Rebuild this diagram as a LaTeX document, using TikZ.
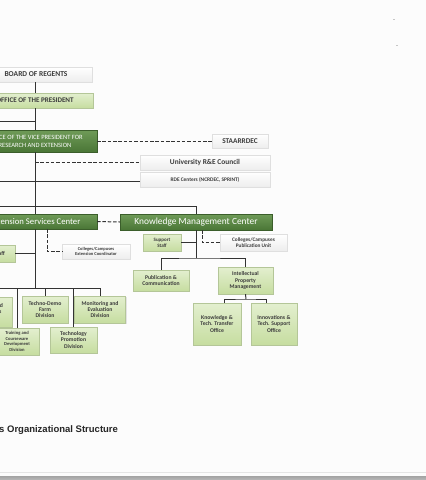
\documentclass[tikz,border=0pt]{standalone}
\usepackage{fontspec}
\setmainfont{Carlito}
\newfontfamily\capfont{Liberation Sans}
\usetikzlibrary{shadows}
\definecolor{darkgrn}{HTML}{4A7636}
\definecolor{darkgrntop}{HTML}{6F9B58}
\definecolor{litegrn}{HTML}{C6DDA0}
\definecolor{litegrntop}{HTML}{E3EFCF}
\definecolor{linegray}{HTML}{333333}
\definecolor{boxtext}{HTML}{3C3C3C}
\tikzset{
  greybox/.style={top color=white, bottom color=gray!14, draw=gray!25, line width=0.3pt,
    drop shadow={shadow xshift=1pt, shadow yshift=-1pt, opacity=0.25},
    text=boxtext, align=center, inner sep=1pt},
  darkbox/.style={top color=darkgrntop, bottom color=darkgrn, draw=darkgrn!80!black,
    line width=0.3pt, text=white, align=center, inner sep=1pt,
    drop shadow={shadow xshift=1pt, shadow yshift=-1pt, opacity=0.25}},
  litebox/.style={top color=litegrntop, bottom color=litegrn, draw=litegrn!75!gray,
    line width=0.4pt, text=boxtext, align=center, inner sep=1pt,
    drop shadow={shadow xshift=1pt, shadow yshift=-1pt, opacity=0.2},
    font=\bfseries\fontsize{5.7}{6.4}\selectfont},
  link/.style={draw=linegray, line width=1pt},
  dlink/.style={link, dash pattern=on 3.5pt off 1.8pt},
}
\begin{document}
\begin{tikzpicture}[x=1pt, y=-1pt]
\useasboundingbox (0,0) rectangle (426,480);
\fill[gray!2] (0,0) rectangle (426,480);
\clip (0,0) rectangle (426,480);

\node[greybox, minimum width=112pt, minimum height=15pt, font=\bfseries\fontsize{7.5}{8}\selectfont] (bor) at (36,74.5) {BOARD OF REGENTS};
\node[litebox, minimum width=116pt, minimum height=15pt, font=\bfseries\fontsize{7.1}{8}\selectfont] (pres) at (35,100.5) {OFFICE OF THE PRESIDENT};
\node[darkbox, minimum width=124pt, minimum height=22pt, font=\fontsize{6.5}{8}\selectfont] (vp) at (35,141) {OFFICE OF THE VICE PRESIDENT FOR\\RESEARCH AND EXTENSION};
\node[greybox, minimum width=56pt, minimum height=14pt, font=\bfseries\fontsize{7.3}{8}\selectfont] (staar) at (240,141) {STAARRDEC};
\node[greybox, minimum width=130pt, minimum height=15pt, font=\bfseries\fontsize{7.4}{8}\selectfont] (council) at (205,162.5) {University R\&E Council};
\node[greybox, minimum width=130pt, minimum height=15pt, font=\bfseries\fontsize{5.4}{6}\selectfont] (rde) at (205,179.5) {RDE Centers (NCRDEC, SPRINT)};

\node[darkbox, minimum width=124pt, minimum height=15pt, font=\fontsize{8.7}{9}\selectfont] (esc) at (35,221.5) {Extension Services Center};
\node[darkbox, minimum width=152pt, minimum height=16pt, font=\fontsize{9.4}{10}\selectfont] (kmc) at (196,222) {Knowledge Management Center};

\node[litebox, minimum width=52pt, minimum height=17pt, font=\bfseries\fontsize{5.8}{6.5}\selectfont] (estaff) at (-11,253.5) {Support Staff};
\node[greybox, minimum width=68pt, minimum height=15pt, font=\bfseries\fontsize{4.5}{5.3}\selectfont] (ecoord) at (96,251.5) {Colleges/Campuses\\Extension Coordinator};
\node[litebox, minimum width=38pt, minimum height=17pt, font=\bfseries\fontsize{5}{5.8}\selectfont] (kstaff) at (162,242.5) {Support\\Staff};
\node[greybox, minimum width=67pt, minimum height=17pt, font=\bfseries\fontsize{5.3}{6.2}\selectfont] (pubunit) at (253.5,242.5) {Colleges/Campuses\\Publication Unit};

\node[litebox, minimum width=64pt, minimum height=30pt] (extprog) at (-20,312) {Extension and Field\\Services Programs\\Division};
\node[litebox, minimum width=46pt, minimum height=27pt] (techno) at (45,309.5) {Techno-Demo\\Farm\\Division};
\node[litebox, minimum width=51pt, minimum height=27pt] (monit) at (100,309.5) {Monitoring and\\Evaluation\\Division};
\node[litebox, minimum width=44pt, minimum height=27pt, font=\bfseries\fontsize{4.6}{5.6}\selectfont] (train) at (17,341.5) {Training and\\Courseware\\Development\\Division};
\node[litebox, minimum width=47pt, minimum height=26pt] (techprom) at (73.5,340) {Technology\\Promotion\\Division};

\node[litebox, minimum width=56pt, minimum height=21pt] (pubcom) at (161,280.5) {Publication \&\\Communication};
\node[litebox, minimum width=55pt, minimum height=27pt] (ipm) at (245.5,280.5) {Intellectual\\Property\\Management};
\node[litebox, minimum width=48pt, minimum height=42pt] (ktto) at (217,324) {Knowledge \&\\Tech. Transfer\\Office};
\node[litebox, minimum width=46pt, minimum height=42pt] (itso) at (274,324) {Innovations \&\\Tech. Support\\Office};

\coordinate (left1) at (-40,121);
\coordinate (left2) at (-40,181);
\coordinate (left3) at (-40,206);
\coordinate (ebus) at (35,288);
\coordinate (kbus) at (196,258);
\coordinate (ibus) at (246,299);

\draw[link] (bor.south -| pres.north) -- (pres.north);
\draw[link] (pres.south) -- (vp.north);
\draw[link] (vp.south) -- (esc.north);
\draw[link] (left1) -- (left1 -| vp.north);
\draw[link] (left2) -- (left2 -| rde.west);
\draw[link] (left3) -| (kmc.north);
\draw[dlink] (vp.east) -- (staar.west);
\draw[dlink] (council.west -| vp.south) -- (council.west);
\draw[dlink] (esc.east) -- (kmc.west);
\draw[dlink] ([xshift=12pt]esc.south) |- (ecoord.west);
\draw[link] (estaff.east) -- (estaff.east -| esc.south);
\draw[link] (esc.south) -- (ebus);
\draw[link] (ebus -| extprog.north) -- (ebus -| monit.north);
\foreach \n in {extprog, techno, monit, train, techprom}
  \draw[link] (ebus -| \n.north) -- (\n.north);

\draw[link] (kmc.south) -- (kbus);
\draw[link] (kstaff.east) -- (kstaff.east -| kmc.south);
\draw[dlink] ([xshift=6pt]kmc.south) |- (pubunit.west);
\draw[link] (pubcom.north) |- (kbus) -| (ipm.north);
\draw[link] (ipm.south) -- (ibus);
\draw[link] ([xshift=7pt]ktto.north) |- (ibus) -| ([xshift=-8pt]itso.north);

\node[font=\capfont\bfseries\fontsize{9.5}{10}\selectfont, text=black!85, anchor=west, inner sep=0pt] (cap) at (-1,430) {s Organizational Structure};

\fill[gray!45] (393,18.5) rectangle (395,19.5);
\fill[gray!45] (396,44.5) rectangle (398,45.5);
\draw[gray!20, line width=0.5pt] (0,472.5) -- (426,472.5);
\shade[top color=gray!70, bottom color=gray!55] (0,476.5) rectangle (426,480);
\end{tikzpicture}
\end{document}
